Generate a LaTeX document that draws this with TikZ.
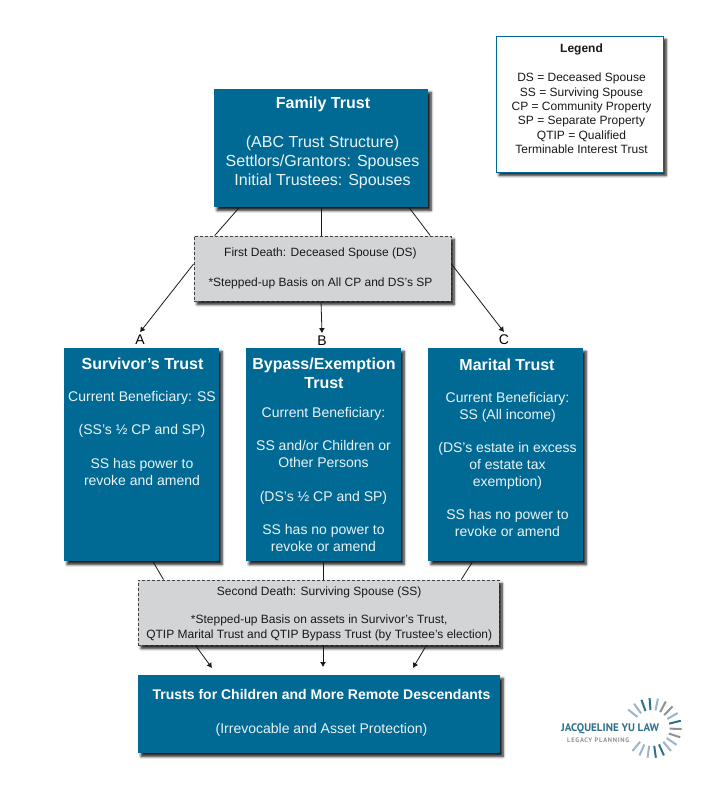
\documentclass[tikz,border=0pt]{standalone}
\usepackage{fontspec}
\setmainfont{Liberation Sans}
\newfontfamily\logofont{PT Sans}
\newfontfamily\logosubfont[LetterSpace=11]{PT Sans}
\usetikzlibrary{shadows.blur,arrows.meta}
\definecolor{trustblue}{HTML}{006A94}
\definecolor{deathgray}{HTML}{D3D4D6}
\definecolor{logoblue}{HTML}{2F6F8E}
\definecolor{logopale}{HTML}{9DB4C6}
\definecolor{logogray}{HTML}{8C9296}
\tikzset{
  softshadow/.style={blur shadow={shadow xshift=3pt,shadow yshift=-3.5pt,shadow blur steps=6,shadow blur radius=2.5pt,shadow opacity=90}},
  trustbox/.style={fill=trustblue,draw=none,softshadow},
  deathbox/.style={fill=deathgray,draw=black!75,dash pattern=on 3pt off 2pt,line width=0.9pt,softshadow},
  legendbox/.style={fill=white,draw=trustblue,line width=0.9pt,softshadow},
  titletext/.style={text=white,align=center,font=\fontsize{16}{18.6}\selectfont\bfseries},
  bodytext/.style={text=white!92!trustblue,align=center,font=\fontsize{14}{16.8}\selectfont,anchor=north,inner sep=0pt},
  smalltext/.style={text=black!90,align=center,font=\fontsize{12}{14.4}\selectfont,inner sep=0pt},
  branchletter/.style={inner sep=0pt,outer sep=3pt,font=\fontsize{14}{16}\selectfont},
  link/.style={draw=black!90,line width=0.8pt},
  arrowlink/.style={link,-{Latex[length=5pt,width=6pt]}}
}
\begin{document}
\begin{tikzpicture}[x=1pt,y=-1pt]
\useasboundingbox (0,0) rectangle (720,801);

% Boxes
\node[trustbox,minimum width=214pt,minimum height=118pt] (family) at (321,148) {};
\node[deathbox,minimum width=257pt,minimum height=65pt] (first) at (322.5,268.5) {};
\node[legendbox,minimum width=167pt,minimum height=136pt] (legend) at (579.5,104) {};
\node[trustbox,minimum width=155pt,minimum height=213pt] (survivor) at (141.5,454.5) {};
\node[trustbox,minimum width=155pt,minimum height=213pt] (bypass) at (323.5,454.5) {};
\node[trustbox,minimum width=155pt,minimum height=213pt] (marital) at (505.5,454.5) {};
\node[deathbox,minimum width=361pt,minimum height=65pt] (second) at (318.5,612.5) {};
\node[trustbox,minimum width=362pt,minimum height=78pt] (children) at (319,714) {};

% Family trust text
\node[titletext] (familytitle) at (323,104) {Family Trust};
\node[bodytext,font=\fontsize{16}{19}\selectfont] (familybody) at (322.5,136) {(ABC Trust Structure)\\Settlors/Grantors: Spouses\\Initial Trustees: Spouses};

% Legend text
\node[smalltext,anchor=north] (legendtext) at (581.5,44) {\textbf{Legend}\\[14.4pt]DS = Deceased Spouse\\SS = Surviving Spouse\\CP = Community Property\\SP = Separate Property\\QTIP = Qualified\\Terminable Interest Trust};

% Death text
\node[smalltext] (firsttext) at (320.5,268) {First Death: Deceased Spouse (DS)\\[15.6pt]*Stepped-up Basis on All CP and DS's SP};
\node[smalltext] (secondtext) at (319.2,613.6) {Second Death: Surviving Spouse (SS)\\[14.4pt]*Stepped-up Basis on assets in Survivor's Trust,\\QTIP Marital Trust and QTIP Bypass Trust (by Trustee's election)};

% Trust text
\node[titletext] (survivortitle) at (142.5,364) {Survivor's Trust};
\node[bodytext] (survivorbody) at (142,391) {Current Beneficiary: SS\\[16.8pt](SS's ½ CP and SP)\\[16.8pt]SS has power to\\revoke and amend};
\node[titletext] (bypasstitle) at (324,373.5) {Bypass/Exemption\\Trust};
\node[bodytext] (bypassbody) at (323.5,407) {Current Beneficiary:\\[16.8pt]SS and/or Children or\\Other Persons\\[16.8pt](DS's ½ CP and SP)\\[16.8pt]SS has no power to\\revoke or amend};
\node[titletext] (maritaltitle) at (507,365) {Marital Trust};
\node[bodytext] (maritalbody) at (507.5,392) {Current Beneficiary:\\SS (All income)\\[16.8pt](DS's estate in excess\\of estate tax\\exemption)\\[16.8pt]SS has no power to\\revoke or amend};
\node[titletext,font=\fontsize{14}{16.8}\selectfont\bfseries] (childrentitle) at (321.5,694) {Trusts for Children and More Remote Descendants};
\node[bodytext,anchor=center] (childrenbody) at (321.5,730) {(Irrevocable and Asset Protection)};

% Branch letters
\node[branchletter] (labela) at (140,340) {A};
\node[branchletter] (labelb) at (322,341) {B};
\node[branchletter] (labelc) at (504,340) {C};

% Connectors
\draw[link] (family.216) -- (first.163);
\draw[link] (family.south) -- (family.south |- first.north);
\draw[link] (family.326) -- (first.17);
\draw[arrowlink] (first.178) -- (labela.north);
\draw[arrowlink] (family.south |- first.south) -- (labelb.north);
\draw[arrowlink] (first.2) -- (labelc.north);
\draw[link] (survivor.276) -- (second.168);
\draw[link] (bypass.south) -- (bypass.south |- second.north);
\draw[link] (marital.253) -- (second.13);
\coordinate (leftend) at (212,668);
\coordinate (midend) at (323,667);
\coordinate (rightend) at (413,668);
\draw[arrowlink] (second.195) -- (leftend);
\draw[arrowlink] (second.south -| midend) -- (midend);
\draw[arrowlink] (second.343) -- (rightend);

% Logo
\node[inner sep=0pt,anchor=west,text=logoblue,font=\logofont\fontsize{11}{13}\selectfont\bfseries] (logoname) at (561,729) {JACQUELINE YU LAW};
\node[inner sep=0pt,anchor=west,text=logogray,font=\logosubfont\fontsize{6.5}{8}\selectfont\bfseries] (logosub) at (567,740) {LEGACY PLANNING};
\foreach \ang/\col in {142/logopale,126/logopale,110/logoblue,94/logoblue,78/logopale,62/logogray,46/logogray,30/logopale,14/logoblue,-2/logogray,-18/logogray,-34/logopale,-50/logopale,-66/logoblue,-82/logoblue,-98/logopale,-114/logopale,-130/logopale}
  \draw[\col,line width=2pt] (651.7,728) ++(\ang:18pt) -- ++(\ang:12pt);
\end{tikzpicture}
\end{document}
